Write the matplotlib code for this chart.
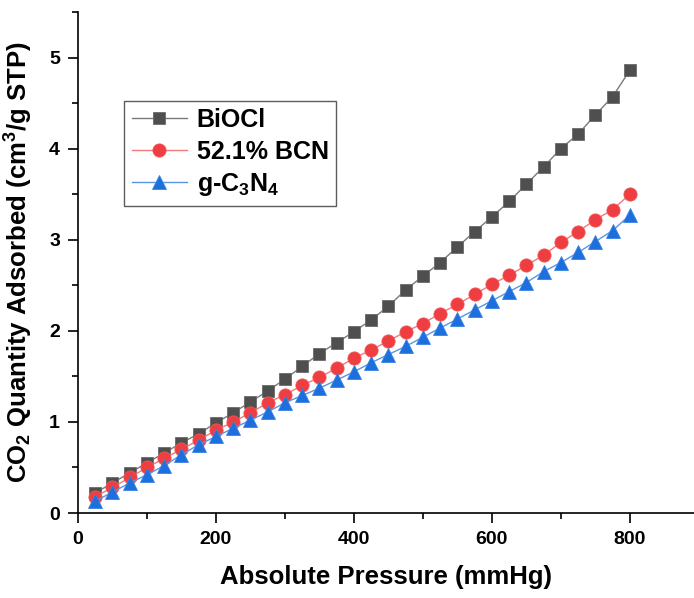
import numpy as np
import matplotlib
matplotlib.use("Agg")
import matplotlib.pyplot as plt
from matplotlib.ticker import MultipleLocator

plt.rcParams['font.family'] = ['Liberation Sans', 'DejaVu Sans']
plt.rcParams['font.weight'] = 'bold'
plt.rcParams['mathtext.fontset'] = 'custom'
plt.rcParams['mathtext.rm'] = 'Liberation Sans:bold'
plt.rcParams['mathtext.bf'] = 'Liberation Sans:bold'
plt.rcParams['mathtext.default'] = 'bf'

# pressure points (mmHg)
pressure = [25, 50, 75, 100, 125, 150, 175, 200, 225, 250, 275, 300, 325, 350, 375, 400,
            425, 450, 475, 500, 525, 550, 575, 600, 625, 650, 675, 700, 725, 750, 775, 800]

biocl = [0.22, 0.33, 0.44, 0.55, 0.66, 0.77, 0.87, 0.99, 1.10, 1.22, 1.34, 1.47, 1.61, 1.75, 1.87, 1.99,
         2.12, 2.27, 2.45, 2.60, 2.75, 2.92, 3.09, 3.25, 3.42, 3.61, 3.80, 4.00, 4.16, 4.37, 4.57, 4.86]
bcn = [0.18, 0.28, 0.39, 0.50, 0.60, 0.70, 0.80, 0.91, 1.00, 1.10, 1.21, 1.30, 1.40, 1.49, 1.59, 1.70,
       1.79, 1.89, 1.99, 2.08, 2.19, 2.29, 2.40, 2.51, 2.61, 2.72, 2.83, 2.97, 3.09, 3.22, 3.33, 3.50]
gcn = [0.13, 0.23, 0.33, 0.42, 0.52, 0.64, 0.75, 0.84, 0.93, 1.02, 1.11, 1.21, 1.29, 1.37, 1.46, 1.55,
       1.65, 1.74, 1.83, 1.93, 2.03, 2.13, 2.23, 2.33, 2.43, 2.53, 2.65, 2.75, 2.86, 2.98, 3.10, 3.27]

fig = plt.figure(figsize=(6.94, 5.98), dpi=100)
ax = fig.add_axes([78 / 694, 85 / 598, 616 / 694, 501 / 598])

ax.plot(pressure, biocl, color='#7a7a7a', lw=1, marker='s', ms=8.5,
        mfc='#4f4f4f', mec='#6a6a6a', mew=0.6, label='BiOCl')
ax.plot(pressure, bcn, color='#f07a7c', lw=1, marker='o', ms=9.5,
        mfc='#ee3e42', mec='#f05558', mew=0.6, label='52.1% BCN')
ax.plot(pressure, gcn, color='#5a95e8', lw=1, marker='^', ms=10,
        mfc='#1c6fdc', mec='#3a82e2', mew=0.6, label='g-C$_3$N$_4$')

ax.set_xlim(0, 893)
ax.set_ylim(0, 5.5)
ax.xaxis.set_major_locator(MultipleLocator(200))
ax.xaxis.set_minor_locator(MultipleLocator(100))
ax.yaxis.set_major_locator(MultipleLocator(1))
ax.yaxis.set_minor_locator(MultipleLocator(0.5))
ax.tick_params(which='major', direction='out', length=7, width=1.2, labelsize=14, pad=6)
ax.tick_params(which='minor', direction='out', length=4, width=1.2)
for s in ['top', 'right']:
    ax.spines[s].set_visible(False)
for s in ['left', 'bottom']:
    ax.spines[s].set_linewidth(1.2)

ax.set_xlabel('Absolute Pressure (mmHg)', fontsize=18.5, fontweight='bold', labelpad=12)
ax.set_ylabel('CO$_2$ Quantity Adsorbed (cm$^3$/g STP)', fontsize=18.5, fontweight='bold', labelpad=10)

leg = ax.legend(loc='upper left', bbox_to_anchor=(0.075, 0.823), fontsize=18,
                frameon=True, fancybox=False, edgecolor='#333333', handlelength=2.2,
                borderpad=0.3, labelspacing=0.3, handletextpad=0.4, borderaxespad=0)
leg.get_frame().set_linewidth(1.0)

fig.savefig('out.png', dpi=100)
